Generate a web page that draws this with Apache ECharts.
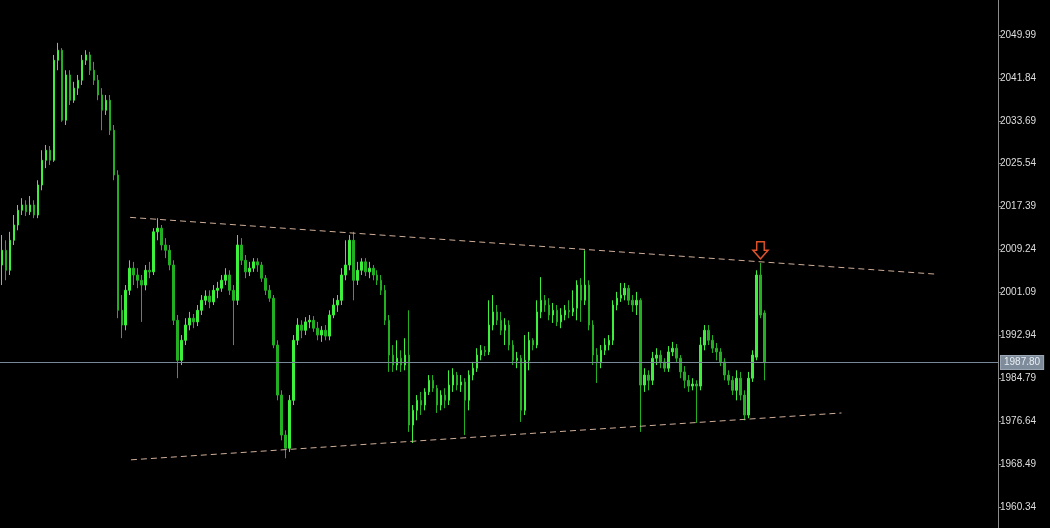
<!DOCTYPE html>
<html>
<head>
<meta charset="utf-8">
<script src="https://cdn.jsdelivr.net/npm/echarts@6/dist/echarts.min.js"></script>
<style>
html,body{margin:0;padding:0;background:#000;}
#chart{width:1050px;height:528px;}
</style>
</head>
<body>
<div id="chart"></div>
<script>
// ---- DATA ----
// candles: [open, close, low, high]
const candles = [
[2006.3,2009.1,2002.5,2012.0],[2009.1,2005.3,2003.4,2011.0],[2005.3,2011.0,2004.4,2012.6],[2011.0,2013.9,2010.1,2015.8],
[2013.9,2016.7,2012.9,2017.7],[2016.7,2017.7,2015.8,2019.0],[2017.7,2016.4,2015.6,2018.6],[2016.4,2017.7,2015.8,2019.4],
[2017.7,2015.8,2015.2,2018.6],[2015.8,2021.5,2015.2,2022.4],[2021.5,2026.2,2020.5,2028.1],[2026.2,2028.1,2024.7,2029.1],
[2028.1,2026.2,2025.3,2028.9],[2026.2,2045.2,2025.9,2046.2],[2045.2,2047.1,2043.3,2048.5],[2047.1,2033.8,2033.5,2047.5],
[2033.8,2042.4,2032.9,2043.3],[2042.4,2037.6,2036.7,2043.3],[2037.6,2039.9,2037.1,2041.1],[2039.9,2041.4,2038.6,2042.4],
[2041.4,2045.2,2040.5,2046.2],[2045.2,2046.2,2044.3,2047.1],[2046.2,2043.3,2042.4,2046.8],[2043.3,2041.4,2040.5,2044.9],
[2041.4,2038.6,2037.6,2042.4],[2038.6,2035.7,2031.9,2039.9],[2035.7,2037.6,2034.8,2038.6],[2037.6,2031.9,2031.0,2038.6],
[2031.9,2023.4,2022.4,2032.9],[2023.4,1997.7,1996.2,2024.3],[1997.7,1994.9,1992.4,2000.6],[1994.9,2001.5,1993.9,2002.5],
[2001.5,2005.7,2000.6,2007.2],[2005.7,2004.4,2002.5,2006.9],[2004.4,2003.4,2001.9,2005.7],[2003.4,2002.5,1995.5,2004.4],
[2002.5,2005.3,2001.5,2006.3],[2005.3,2005.0,2003.8,2006.9],[2005.0,2012.6,2004.4,2013.3],[2012.6,2013.3,2011.0,2015.2],
[2013.3,2010.1,2009.1,2013.9],[2010.1,2009.1,2007.6,2011.4],[2009.1,2006.3,2005.3,2010.1],[2006.3,1995.8,1994.9,2007.2],
[1995.8,1988.2,1984.8,1996.8],[1988.2,1992.0,1987.3,1993.0],[1992.0,1994.9,1991.1,1996.2],[1994.9,1996.2,1993.9,1997.4],
[1996.2,1995.5,1994.3,1997.0],[1995.5,1997.7,1994.7,1998.7],[1997.7,1999.6,1996.8,2000.6],[1999.6,2000.4,1998.7,2001.5],
[2000.4,1999.3,1998.1,2001.5],[1999.3,2001.5,1998.7,2002.5],[2001.5,2001.9,2000.0,2003.1],[2001.9,2003.4,2001.2,2004.4],
[2003.4,2004.4,2002.5,2005.7],[2004.4,2001.5,2000.6,2005.3],[2001.5,1999.6,1991.1,2002.5],[1999.6,2010.1,1998.7,2012.0],
[2010.1,2007.2,2006.3,2011.4],[2007.2,2005.0,2003.8,2008.2],[2005.0,2005.7,2004.2,2006.9],[2005.7,2006.9,2005.0,2007.6],
[2006.9,2006.3,2005.0,2007.6],[2006.3,2003.8,2003.1,2006.9],[2003.8,2001.5,2000.6,2004.4],[2001.5,2000.0,1999.3,2002.5],
[2000.0,1991.1,1990.5,2000.6],[1991.1,1981.6,1980.6,1992.0],[1981.6,1974.0,1973.0,1982.5],[1974.0,1971.5,1969.6,1974.9],
[1971.5,1980.6,1970.8,1981.6],[1980.6,1992.0,1979.7,1993.0],[1992.0,1994.9,1991.1,1996.2],[1994.9,1993.9,1992.4,1995.8],
[1993.9,1995.5,1993.0,1996.4],[1995.5,1995.8,1994.3,1996.8],[1995.8,1994.3,1993.6,1996.6],[1994.3,1993.0,1992.0,1995.5],
[1993.0,1993.9,1991.7,1994.7],[1993.9,1992.8,1992.0,1994.9],[1992.8,1996.8,1992.0,1997.7],[1996.8,1998.7,1996.2,2000.0],
[1998.7,1999.6,1997.4,2000.6],[1999.6,2004.4,1998.7,2005.7],[2004.4,2006.3,2003.4,2011.0],[2006.3,2011.0,2005.3,2012.0],
[2011.0,2003.4,1999.6,2012.6],[2003.4,2005.3,2002.5,2006.9],[2005.3,2006.9,2004.4,2007.6],[2006.9,2005.0,2004.2,2007.6],
[2005.0,2005.7,2003.8,2006.9],[2005.7,2004.4,2003.4,2006.3],[2004.4,2003.4,2002.5,2005.3],[2003.4,2001.5,2000.6,2004.4],
[2001.5,1995.8,1994.9,2002.5],[1995.8,1989.2,1986.0,1996.8],[1989.2,1987.3,1986.0,1991.1],[1987.3,1988.6,1986.3,1992.0],
[1988.6,1987.3,1986.0,1990.1],[1987.3,1989.2,1986.3,1992.4],[1989.2,1975.9,1974.6,1997.7],[1975.9,1978.7,1972.5,1979.7],
[1978.7,1980.6,1976.8,1981.6],[1980.6,1979.7,1977.8,1982.2],[1979.7,1982.2,1978.7,1982.9],[1982.2,1984.4,1981.6,1985.4],
[1984.4,1982.9,1982.2,1985.4],[1982.9,1979.7,1978.2,1983.5],[1979.7,1981.6,1978.7,1982.5],[1981.6,1980.6,1979.1,1982.9],
[1980.6,1983.5,1979.7,1986.3],[1983.5,1985.4,1982.2,1986.7],[1985.4,1983.5,1982.5,1986.0],[1983.5,1984.1,1982.2,1985.4],
[1984.1,1980.6,1974.0,1984.8],[1980.6,1985.4,1978.7,1986.3],[1985.4,1986.7,1984.4,1987.9],[1986.7,1989.2,1986.0,1990.5],
[1989.2,1990.1,1988.2,1991.1],[1990.1,1989.8,1989.0,1990.9],[1989.8,1994.9,1989.2,1999.6],[1994.9,1997.4,1993.9,2000.6],
[1997.4,1995.8,1994.9,1998.7],[1995.8,1993.9,1993.0,1997.4],[1993.9,1994.9,1991.1,1996.2],[1994.9,1991.1,1990.1,1995.8],
[1991.1,1988.2,1987.3,1992.0],[1988.2,1988.6,1986.7,1989.8],[1988.6,1978.7,1976.5,1989.2],[1978.7,1988.2,1977.8,1993.0],
[1988.2,1992.0,1986.3,1993.6],[1992.0,1991.1,1990.1,1992.4],[1991.1,1997.4,1990.5,1999.6],[1997.4,1999.6,1996.2,2004.0],
[1999.6,1998.7,1997.4,2000.6],[1998.7,1996.8,1995.8,2000.0],[1996.8,1997.7,1995.3,1999.1],[1997.7,1995.5,1994.7,1998.7],
[1995.5,1996.8,1994.3,1998.1],[1996.8,1997.7,1995.8,1998.7],[1997.7,1997.4,1996.2,1999.6],[1997.4,1998.1,1996.6,2001.5],
[1998.1,2002.5,1995.8,2003.4],[2002.5,1999.6,1995.5,2003.8],[1999.6,2002.5,1998.7,2009.1],[2002.5,1994.9,1993.9,2003.4],
[1994.9,1989.2,1987.3,1995.8],[1989.2,1987.9,1983.9,1990.5],[1987.9,1990.1,1986.7,1991.1],[1990.1,1991.1,1989.2,1992.4],
[1991.1,1992.0,1990.1,1993.0],[1992.0,1998.7,1991.1,1999.6],[1998.7,2000.0,1997.7,2001.2],[2000.0,2000.6,1999.3,2002.9],
[2000.6,2001.9,1999.6,2002.9],[2001.9,1999.6,1998.7,2002.5],[1999.6,1998.7,1997.4,2000.6],[1998.7,1999.6,1996.8,2001.2],
[1999.6,1983.5,1974.6,2000.0],[1983.5,1985.4,1982.2,1986.7],[1985.4,1984.4,1982.5,1986.3],[1984.4,1988.6,1983.5,1989.8],
[1988.6,1989.2,1987.3,1990.5],[1989.2,1987.9,1986.7,1990.1],[1987.9,1986.7,1986.0,1988.6],[1986.7,1989.8,1986.0,1990.9],
[1989.8,1990.5,1989.0,1991.7],[1990.5,1988.6,1987.9,1991.3],[1988.6,1986.0,1984.8,1989.2],[1986.0,1984.4,1982.9,1987.1],
[1984.4,1983.3,1982.2,1985.4],[1983.3,1983.7,1982.5,1984.8],[1983.7,1983.3,1976.3,1984.4],[1983.3,1991.1,1982.5,1992.6],
[1991.1,1993.9,1990.1,1994.9],[1993.9,1992.0,1991.1,1994.9],[1992.0,1990.5,1989.6,1993.0],[1990.5,1989.8,1988.2,1991.5],
[1989.8,1987.9,1987.1,1990.5],[1987.9,1985.4,1984.4,1988.6],[1985.4,1984.4,1983.5,1986.3],[1984.4,1982.5,1981.6,1985.2],
[1982.5,1984.8,1980.6,1986.3],[1984.8,1981.6,1980.6,1986.0],[1981.6,1977.8,1976.8,1982.5],[1977.8,1984.8,1977.2,1986.0],
[1984.8,1989.2,1984.1,1990.1],[1988.8,2004.4,1988.2,2005.3],[2004.4,1996.8,1996.2,2006.7],[1997.2,1987.8,1984.4,1997.7]
];
const priceTicks = [1960.34,1968.49,1976.64,1984.79,1992.94,2001.09,2009.24,2017.39,2025.54,2033.69,2041.84,2049.99];
const priceRange = [1956.35, 2056.64];
const slotCount = 250;                       // bar slots visible on screen (incl. empty right shift)
const upperTrend = [[32.1, 2015.35], [233.7, 2004.58]];   // [bar index, price]
const lowerTrend = [[32.3, 1969.3], [210.3, 1978.2]];
const bidPrice = 1987.80;
const signalArrow = [190, 2009.1];           // [bar index, price]

// ---- CHART ----
const categories = Array.from({length: slotCount}, (_, i) => String(i));
const chart = echarts.init(document.getElementById('chart'), null, {renderer: 'canvas'});
const trendStyle = {color: '#cfae98', width: 1, type: [6, 4]};

chart.setOption({
  backgroundColor: '#000000',
  animation: false,
  grid: {left: 0, right: 52, top: 0, bottom: 0},
  xAxis: [
    {type: 'category', data: categories, show: false, boundaryGap: true},
    {type: 'value', min: -0.5, max: slotCount - 0.5, show: false}
  ],
  yAxis: {
    type: 'value', position: 'right', min: priceRange[0], max: priceRange[1], scale: true,
    splitLine: {show: false},
    axisLine: {show: true, onZero: false, lineStyle: {color: '#8c8c8c', width: 1}},
    axisTick: {show: true, inside: false, length: 3, lineStyle: {color: '#8c8c8c'}, customValues: priceTicks},
    axisLabel: {
      show: true, margin: 2, color: '#dedede', fontFamily: 'Liberation Sans', fontSize: 10,
      customValues: priceTicks, formatter: v => v.toFixed(2)
    }
  },
  series: [
    {
      type: 'candlestick',
      data: candles,
      barWidth: 2,
      itemStyle: {color: '#3cf03c', color0: '#22b022', borderColor: '#3cf03c', borderColor0: '#22b022', borderWidth: 1},
      markLine: {
        silent: true, symbol: ['none', 'none'],
        lineStyle: {color: '#778899', width: 1, type: 'solid'},
        label: {
          show: true, position: 'end', distance: 3, formatter: () => bidPrice.toFixed(2),
          backgroundColor: '#7d8b9b', color: '#e8edf2', padding: [2, 3, 1, 3],
          fontFamily: 'Liberation Sans', fontSize: 10, borderColor: '#9aa6b3', borderWidth: 1
        },
        data: [{yAxis: bidPrice}]
      },
      markPoint: {
        silent: true,
        symbol: 'path://M4,0 L12,0 L12,9 L16,9 L8,18 L0,9 L4,9 Z',
        symbolSize: [15, 17],
        itemStyle: {color: 'rgba(0,0,0,0)', borderColor: '#e0532b', borderWidth: 1.5},
        label: {show: false},
        data: [{coord: [signalArrow[0], signalArrow[1]]}]
      }
    },
    {
      type: 'line', xAxisIndex: 1, data: upperTrend, symbol: 'none', silent: true,
      lineStyle: trendStyle
    },
    {
      type: 'line', xAxisIndex: 1, data: lowerTrend, symbol: 'none', silent: true,
      lineStyle: trendStyle
    }
  ]
});
</script>
</body>
</html>
